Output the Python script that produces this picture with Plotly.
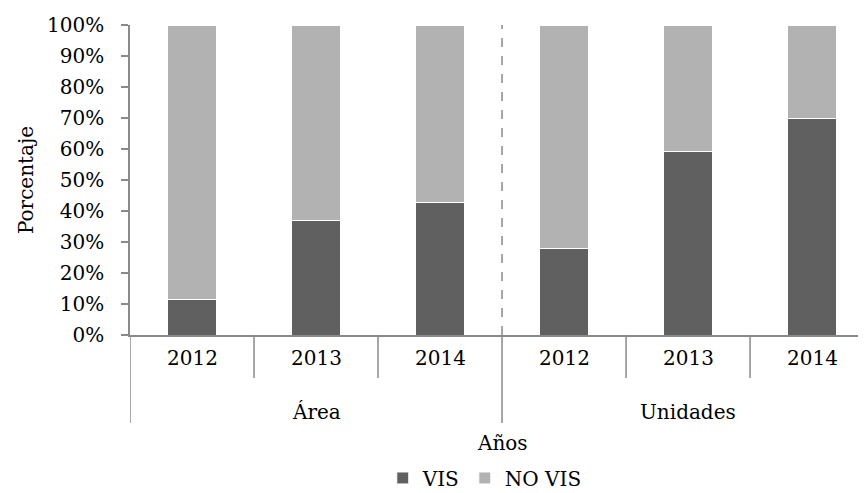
import plotly.graph_objects as go

grupos = ["Área", "Área", "Área", "Unidades", "Unidades", "Unidades"]
anios = ["2012", "2013", "2014", "2012", "2013", "2014"]
vis = [0.113, 0.37, 0.427, 0.28, 0.593, 0.70]
no_vis = [1 - v for v in vis]

x = list(range(len(anios)))
FONT = "DejaVu Serif"

fig = go.Figure()
fig.add_trace(go.Bar(x=x, y=vis, name="VIS", width=0.39,
                     marker=dict(color="#606060", line=dict(color="white", width=1))))
fig.add_trace(go.Bar(x=x, y=no_vis, name="NO VIS", width=0.39,
                     marker=dict(color="#b2b2b2", line=dict(color="white", width=1))))

# separadores del eje de categorias
shapes = []
for i in [1, 2, 4, 5]:
    shapes.append(dict(type="line", xref="x", yref="paper", x0=i - 0.5, x1=i - 0.5,
                       y0=0, y1=-0.139, line=dict(color="#8a8a8a", width=1.5)))
for i in [0, 3]:
    shapes.append(dict(type="line", xref="x", yref="paper", x0=i - 0.5, x1=i - 0.5,
                       y0=0, y1=-0.284, line=dict(color="#8a8a8a", width=1.5)))
shapes.append(dict(type="line", xref="x", yref="paper", x0=2.5, x1=2.5,
                   y0=0, y1=1, line=dict(color="#8a8a8a", width=1.5, dash="dash")))

annotations = []
for i, a in enumerate(anios):
    annotations.append(dict(x=i, y=-0.074, xref="x", yref="paper", text=a, yanchor="middle",
                            showarrow=False, font=dict(size=20, color="black")))
for g in sorted(set(grupos), key=grupos.index):
    idx = [i for i, v in enumerate(grupos) if v == g]
    annotations.append(dict(x=sum(idx) / len(idx), y=-0.248, xref="x", yref="paper", text=g,
                            yanchor="middle", showarrow=False, font=dict(size=20, color="black")))
annotations.append(dict(x=2.5, y=-0.348, xref="x", yref="paper", text="Años", yanchor="middle",
                        showarrow=False, font=dict(size=20, color="black")))

# la pagina tiene 8px de margen en el body
fig.update_layout(
    barmode="stack",
    width=858, height=485,
    margin=dict(l=122, r=0, t=17, b=158, autoexpand=False),
    plot_bgcolor="white", paper_bgcolor="white",
    font=dict(family=FONT, size=20, color="black"),
    shapes=shapes, annotations=annotations,
    showlegend=True,
    legend=dict(orientation="h", x=0.482, xanchor="center", xref="paper",
                y=0.031, yanchor="middle", yref="container",
                font=dict(size=20), traceorder="normal", itemwidth=30, borderwidth=0),
    xaxis=dict(range=[-0.5, 5.435], showticklabels=False, showgrid=False, zeroline=False,
               showline=True, linecolor="#8a8a8a", linewidth=1.5, ticks=""),
    yaxis=dict(range=[0, 1], dtick=0.1, tickformat=".0%", showgrid=False, zeroline=False,
               showline=True, linecolor="#8a8a8a", linewidth=1.5, ticks="outside",
               ticklen=7, tickcolor="#8a8a8a", tickwidth=1.5, ticklabelstandoff=13,
               automargin=False,
               title=dict(text="Porcentaje", standoff=8, font=dict(size=20))),
)

fig.write_html("out.html")
